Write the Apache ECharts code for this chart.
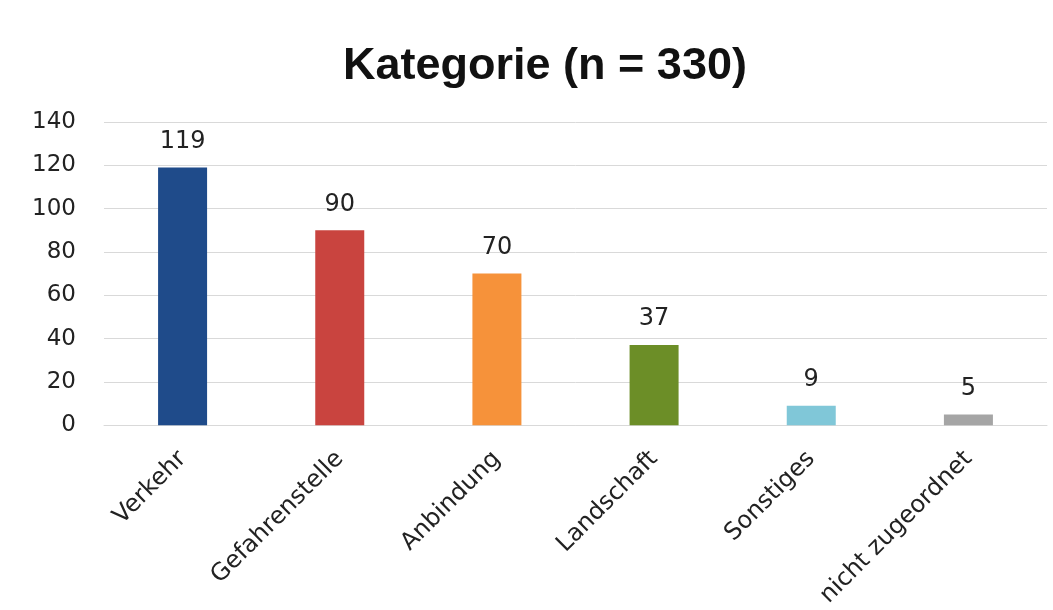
<!DOCTYPE html>
<html>
<head>
<meta charset="utf-8">
<script src="https://cdn.jsdelivr.net/npm/echarts@6/dist/echarts.min.js"></script>
<style>html,body{margin:0;padding:0;background:#fff}#c{width:1053px;height:610px}</style>
</head>
<body>
<div id="c"></div>
<script>
const categories = ["Verkehr", "Gefahrenstelle", "Anbindung", "Landschaft", "Sonstiges", "nicht zugeordnet"];
const values = [119, 90, 70, 37, 9, 5];
const colors = ["#1F4B8A", "#C9443F", "#F6923A", "#6C8E27", "#80C7D8", "#A5A5A5"];
const yTicks = [0, 20, 40, 60, 80, 100, 120, 140];

const chart = echarts.init(document.getElementById('c'));
chart.setOption({
  animation: false,
  backgroundColor: '#fff',
  title: {
    text: 'Kategorie (n = 330)',
    left: 540, top: 39, textAlign: 'center',
    textStyle: { fontFamily: 'Liberation Sans', fontWeight: 'bold', fontSize: 45, color: '#111' }
  },
  grid: { left: 104, right: 6, top: 122, bottom: 184, containLabel: false },
  xAxis: {
    type: 'category', data: categories,
    axisLine: { show: true, lineStyle: { color: '#d9d9d9', width: 1 } },
    axisTick: { show: false },
    axisLabel: { rotate: 45, fontSize: 24, color: '#222', fontFamily: 'DejaVu Sans', margin: 30, interval: 0 }
  },
  yAxis: {
    type: 'value', min: yTicks[0], max: yTicks[yTicks.length - 1], interval: 20,
    axisLine: { show: false }, axisTick: { show: false },
    axisLabel: { fontSize: 23, color: '#222', fontFamily: 'DejaVu Sans', margin: 28 },
    splitLine: { lineStyle: { color: '#d9d9d9', width: 1 } }
  },
  series: [{
    type: 'bar', barWidth: 49,
    data: values.map((v, i) => ({ value: v, itemStyle: { color: colors[i] } })),
    label: { show: true, position: 'top', distance: 14, fontSize: 24, color: '#222', fontFamily: 'DejaVu Sans' }
  }]
});
</script>
</body>
</html>
